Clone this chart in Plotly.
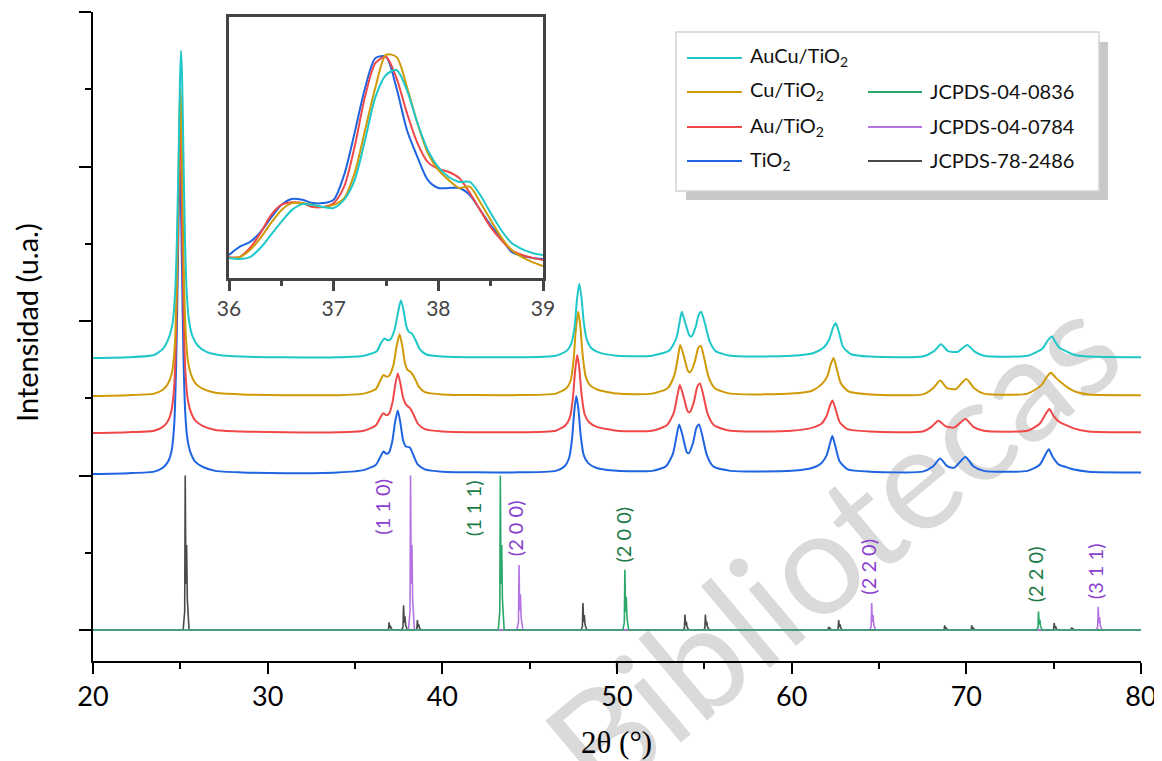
import plotly.graph_objects as go

# ---------------- data ----------------
# Sample patterns: (2theta, intensity above own baseline), units = 1 major y tick
TIO2_X = [20.0, 22.0, 23.5, 24.0, 24.3, 24.5, 24.65, 24.76, 24.86, 24.93, 24.97, 25.02, 25.09, 25.18, 25.28, 25.4, 25.58, 25.85, 26.3, 27.0,
          28.5, 31.0, 34.0, 35.5, 36.2, 36.45, 36.63, 36.8, 36.95, 37.15, 37.3, 37.45, 37.6, 37.75, 37.9, 38.15, 38.35, 38.6, 39.0,
          40.0, 44.0, 46.5, 47.0, 47.25, 47.42, 47.55, 47.67, 47.79, 47.92, 48.1, 48.35, 48.8, 50.0, 52.0, 52.8, 53.2, 53.4, 53.56,
          53.75, 54.0, 54.12, 54.35, 54.55, 54.7, 54.9, 55.15, 55.5, 56.5, 60.0, 61.2, 61.7, 62.0, 62.2, 62.33, 62.5, 62.75, 63.2,
          64.5, 67.5, 68.1, 68.5, 68.9, 69.3, 69.95, 70.4, 71.0, 73.5, 74.2, 74.55, 74.72, 74.95, 75.3, 75.7, 76.1, 77.0, 80.0]
TIO2_Y = [0.0, 0.005, 0.015, 0.04, 0.08, 0.15, 0.32, 0.7, 1.35, 1.85, 1.99, 1.85, 1.35, 0.75, 0.4, 0.23, 0.14, 0.08, 0.045, 0.02,
          0.01, 0.005, 0.01, 0.025, 0.06, 0.11, 0.145, 0.13, 0.14, 0.22, 0.34, 0.41, 0.33, 0.22, 0.18, 0.17, 0.12, 0.06, 0.03,
          0.015, 0.01, 0.02, 0.05, 0.1, 0.22, 0.4, 0.505, 0.42, 0.25, 0.12, 0.07, 0.04, 0.02, 0.02, 0.05, 0.13, 0.24, 0.32,
          0.25, 0.14, 0.135, 0.2, 0.3, 0.32, 0.24, 0.12, 0.05, 0.02, 0.02, 0.04, 0.07, 0.12, 0.2, 0.245, 0.18, 0.08, 0.03,
          0.015, 0.015, 0.05, 0.1, 0.05, 0.04, 0.11, 0.05, 0.02, 0.02, 0.06, 0.13, 0.16, 0.11, 0.06, 0.045, 0.03, 0.015, 0.01]

AU_X = [20.0, 22.0, 23.5, 24.0, 24.3, 24.5, 24.66, 24.77, 24.87, 24.94, 24.98, 25.03, 25.1, 25.19, 25.29, 25.41, 25.59, 25.86, 26.3, 27.0,
        28.5, 31.0, 34.0, 35.5, 36.2, 36.45, 36.62, 36.8, 36.95, 37.15, 37.3, 37.45, 37.6, 37.75, 37.95, 38.16, 38.35, 38.6, 39.0,
        40.0, 44.0, 46.5, 47.05, 47.3, 47.47, 47.6, 47.72, 47.84, 47.97, 48.15, 48.4, 48.85, 50.0, 52.0, 52.85, 53.25, 53.45, 53.6,
        53.8, 54.05, 54.17, 54.4, 54.6, 54.75, 54.95, 55.2, 55.55, 56.5, 60.0, 61.2, 61.7, 62.0, 62.2, 62.33, 62.5, 62.75, 63.2,
        64.5, 67.5, 68.0, 68.4, 68.8, 69.3, 69.95, 70.4, 71.0, 73.5, 74.2, 74.58, 74.75, 75.0, 75.35, 75.75, 76.15, 77.0, 80.0]
AU_Y = [0.0, 0.005, 0.015, 0.04, 0.08, 0.15, 0.32, 0.7, 1.35, 1.84, 1.98, 1.84, 1.35, 0.75, 0.4, 0.23, 0.14, 0.08, 0.045, 0.02,
        0.01, 0.005, 0.005, 0.015, 0.05, 0.1, 0.128, 0.115, 0.125, 0.2, 0.31, 0.386, 0.32, 0.23, 0.18, 0.16, 0.12, 0.06, 0.025,
        0.01, 0.005, 0.015, 0.05, 0.1, 0.22, 0.4, 0.505, 0.42, 0.25, 0.12, 0.07, 0.04, 0.015, 0.015, 0.05, 0.13, 0.24, 0.31,
        0.24, 0.14, 0.135, 0.2, 0.3, 0.32, 0.24, 0.12, 0.05, 0.015, 0.015, 0.035, 0.06, 0.11, 0.18, 0.21, 0.16, 0.07, 0.025,
        0.01, 0.01, 0.04, 0.08, 0.045, 0.035, 0.09, 0.04, 0.015, 0.015, 0.06, 0.13, 0.155, 0.11, 0.07, 0.05, 0.03, 0.01, 0.005]

CU_X = [20.0, 22.0, 23.5, 24.0, 24.3, 24.52, 24.68, 24.79, 24.89, 24.96, 25.0, 25.05, 25.12, 25.21, 25.31, 25.43, 25.61, 25.88, 26.3, 27.0,
        28.5, 31.0, 34.0, 35.5, 36.2, 36.45, 36.63, 36.8, 36.95, 37.2, 37.38, 37.55, 37.7, 37.85, 38.0, 38.2, 38.4, 38.65, 39.0,
        40.0, 44.0, 46.5, 47.1, 47.35, 47.52, 47.65, 47.78, 47.9, 48.03, 48.2, 48.45, 48.9, 50.0, 52.0, 52.9, 53.3, 53.5, 53.62,
        53.82, 54.07, 54.2, 54.45, 54.65, 54.8, 55.0, 55.25, 55.6, 56.5, 60.0, 61.2, 61.75, 62.05, 62.25, 62.4, 62.57, 62.82, 63.25,
        64.5, 67.5, 68.1, 68.5, 68.9, 69.4, 70.0, 70.45, 71.0, 73.5, 74.3, 74.65, 74.85, 75.1, 75.5, 75.85, 76.3, 77.0, 80.0]
CU_Y = [0.0, 0.005, 0.015, 0.04, 0.08, 0.15, 0.32, 0.7, 1.35, 1.85, 1.99, 1.85, 1.35, 0.75, 0.4, 0.23, 0.14, 0.08, 0.045, 0.02,
        0.01, 0.005, 0.005, 0.015, 0.045, 0.1, 0.136, 0.125, 0.13, 0.2, 0.32, 0.40, 0.33, 0.22, 0.17, 0.153, 0.12, 0.06, 0.025,
        0.01, 0.005, 0.015, 0.05, 0.1, 0.24, 0.44, 0.545, 0.45, 0.27, 0.13, 0.07, 0.04, 0.015, 0.015, 0.05, 0.14, 0.26, 0.33,
        0.26, 0.16, 0.155, 0.22, 0.31, 0.325, 0.24, 0.12, 0.05, 0.015, 0.015, 0.035, 0.08, 0.13, 0.21, 0.245, 0.18, 0.08, 0.03,
        0.01, 0.01, 0.05, 0.1, 0.05, 0.045, 0.11, 0.05, 0.015, 0.015, 0.07, 0.13, 0.15, 0.12, 0.08, 0.05, 0.025, 0.01, 0.005]

AUCU_X = [20.0, 22.0, 23.5, 24.0, 24.3, 24.55, 24.7, 24.8, 24.9, 24.98, 25.04, 25.1, 25.18, 25.27, 25.37, 25.5, 25.7, 26.0, 26.5, 27.2,
          28.5, 31.0, 34.0, 35.5, 36.25, 36.5, 36.7, 36.87, 37.02, 37.28, 37.47, 37.63, 37.78, 37.93, 38.08, 38.25, 38.45, 38.7, 39.05,
          40.0, 44.0, 46.5, 47.15, 47.4, 47.58, 47.71, 47.84, 47.96, 48.09, 48.27, 48.52, 49.0, 50.0, 52.0, 53.0, 53.4, 53.58, 53.71,
          53.9, 54.15, 54.27, 54.5, 54.68, 54.82, 55.02, 55.3, 55.65, 56.5, 60.0, 61.3, 61.85, 62.15, 62.38, 62.53, 62.7, 62.95, 63.4,
          64.5, 67.5, 68.15, 68.55, 68.95, 69.5, 70.05, 70.5, 71.0, 73.5, 74.35, 74.7, 74.9, 75.12, 75.35, 75.7, 76.2, 77.0, 80.0]
AUCU_Y = [0.0, 0.005, 0.02, 0.06, 0.12, 0.22, 0.42, 0.75, 1.3, 1.8, 1.99, 1.82, 1.3, 0.75, 0.42, 0.24, 0.14, 0.08, 0.04, 0.02,
          0.01, 0.005, 0.005, 0.015, 0.045, 0.1, 0.127, 0.115, 0.12, 0.19, 0.3, 0.375, 0.31, 0.21, 0.17, 0.16, 0.12, 0.06, 0.025,
          0.01, 0.005, 0.015, 0.05, 0.1, 0.21, 0.38, 0.48, 0.4, 0.24, 0.12, 0.065, 0.035, 0.015, 0.015, 0.05, 0.13, 0.23, 0.30,
          0.23, 0.145, 0.14, 0.2, 0.28, 0.30, 0.23, 0.11, 0.045, 0.015, 0.015, 0.035, 0.07, 0.12, 0.2, 0.225, 0.17, 0.07, 0.025,
          0.01, 0.01, 0.045, 0.09, 0.045, 0.04, 0.085, 0.04, 0.015, 0.015, 0.06, 0.12, 0.14, 0.1, 0.065, 0.045, 0.02, 0.01, 0.005]

SAMPLE_NAMES = ["TiO<sub>2</sub>", "Au/TiO<sub>2</sub>", "Cu/TiO<sub>2</sub>", "AuCu/TiO<sub>2</sub>"]
SAMPLE_OFFSETS = [1.01, 1.275, 1.515, 1.76]   # stacking offsets

# Inset (36-39 deg), normalised intensity
INSET_X = [36.0, 36.1, 36.2, 36.3, 36.4, 36.5, 36.6, 36.7, 36.8, 36.9, 37.0, 37.1, 37.2, 37.3, 37.4, 37.5, 37.6, 37.7,
           37.8, 37.9, 38.0, 38.1, 38.2, 38.3, 38.4, 38.5, 38.6, 38.7, 38.8, 38.9, 39.0]
INSET_TIO2 = [0.088, 0.119, 0.138, 0.176, 0.23, 0.28, 0.303, 0.30, 0.287, 0.287, 0.30, 0.395, 0.556, 0.728, 0.843, 0.847, 0.728, 0.567,
              0.464, 0.375, 0.345, 0.345, 0.345, 0.318, 0.26, 0.203, 0.153, 0.10, 0.084, 0.077, 0.073]
INSET_AU = [0.08, 0.08, 0.115, 0.172, 0.24, 0.28, 0.29, 0.287, 0.272, 0.272, 0.287, 0.35, 0.503, 0.695, 0.824, 0.847, 0.766, 0.632,
            0.517, 0.444, 0.418, 0.406, 0.383, 0.326, 0.26, 0.195, 0.146, 0.107, 0.088, 0.077, 0.069]
INSET_CU = [0.077, 0.08, 0.107, 0.153, 0.21, 0.26, 0.287, 0.287, 0.28, 0.272, 0.28, 0.306, 0.402, 0.567, 0.732, 0.855, 0.847, 0.732,
            0.594, 0.479, 0.414, 0.375, 0.345, 0.35, 0.29, 0.222, 0.157, 0.107, 0.08, 0.061, 0.046]
INSET_AUCU = [0.077, 0.073, 0.08, 0.115, 0.165, 0.215, 0.26, 0.283, 0.28, 0.272, 0.268, 0.30, 0.375, 0.529, 0.695, 0.778, 0.797, 0.72,
              0.594, 0.49, 0.425, 0.387, 0.368, 0.368, 0.318, 0.249, 0.184, 0.134, 0.111, 0.096, 0.088]

# Reference patterns (position, relative height)
ANATASE_POS = [25.28, 36.95, 37.78, 38.57, 48.05, 53.89, 55.06, 62.12, 62.69, 68.76, 70.31, 75.03, 76.02]
ANATASE_H = [1.0, 0.05, 0.16, 0.065, 0.175, 0.10, 0.10, 0.02, 0.065, 0.03, 0.03, 0.045, 0.015]
AU_REF_POS = [38.18, 44.39, 64.58, 77.55]
AU_REF_H = [1.0, 0.42, 0.175, 0.15]
CU_REF_POS = [43.32, 50.45, 74.13]
CU_REF_H = [1.0, 0.39, 0.12]

HKL_TEXT = ["(1 1 0)", "(1 1 1)", "(2 0 0)", "(2 0 0)", "(2 2 0)", "(2 2 0)", "(3 1 1)"]
HKL_X = [36.56, 41.77, 44.17, 50.36, 64.37, 73.98, 77.36]
HKL_Y = [0.80, 0.79, 0.66, 0.62, 0.41, 0.36, 0.38]
HKL_PHASE = ["au", "cu", "au", "cu", "au", "cu", "au"]

# ---------------- style ----------------
C_TIO2 = "#1f64e0"
C_AU = "#f04848"
C_CU = "#cf9a08"
C_AUCU = "#1fc7c9"
C_GREEN = "#2aa86a"
C_PURPLE = "#b574e3"
C_GRAY = "#4a4a4a"
T_GREEN = "#1e7a48"
T_PURPLE = "#8a3fcf"
FONT = "Lato"

# page body has an 8px margin: size and margins compensate so the plot lands at the target pixels
OFF = 8
W, H = 1162 - OFF, 761 - OFF
ML, MR, MT, MB = 93 - OFF, 21, 12 - OFF, 100
PW, PH = W - ML - MR, H - MT - MB


def px(x):
    return (x - OFF - ML) / PW


def py(y):
    return (H + OFF - MB - y) / PH


def stick(pos, hts):
    xs, ys = [20.0], [0.0]
    for p, h in sorted(zip(pos, hts)):
        xs += [p - 0.12, p - 0.03, p, p + 0.04, p + 0.08, p + 0.12, p + 0.22]
        ys += [0.0, 0.12 * h, h, 0.3 * h, 0.55 * h, 0.2 * h, 0.0]
    xs.append(80.0)
    ys.append(0.0)
    return xs, ys


fig = go.Figure()

for pos, hts, col in [(ANATASE_POS, ANATASE_H, C_GRAY), (AU_REF_POS, AU_REF_H, C_PURPLE), (CU_REF_POS, CU_REF_H, C_GREEN)]:
    sx, sy = stick(pos, hts)
    fig.add_trace(go.Scatter(x=sx, y=sy, mode="lines", line=dict(color=col, width=1.6),
                             showlegend=False, hoverinfo="skip"))

samples = [(TIO2_X, TIO2_Y, C_TIO2), (AU_X, AU_Y, C_AU), (CU_X, CU_Y, C_CU), (AUCU_X, AUCU_Y, C_AUCU)]
for (xs, ys, col), off, name in zip(samples, SAMPLE_OFFSETS, SAMPLE_NAMES):
    fig.add_trace(go.Scatter(x=xs, y=[off + v for v in ys], mode="lines", name=name,
                             line=dict(color=col, width=2, shape="spline", smoothing=0.6),
                             showlegend=False))

for ys, col in [(INSET_TIO2, C_TIO2), (INSET_AU, C_AU), (INSET_CU, C_CU), (INSET_AUCU, C_AUCU)]:
    fig.add_trace(go.Scatter(x=INSET_X, y=ys, mode="lines", xaxis="x2", yaxis="y2",
                             line=dict(color=col, width=2, shape="spline", smoothing=0.8),
                             showlegend=False))

annotations = []
for t, x, y, ph in zip(HKL_TEXT, HKL_X, HKL_Y, HKL_PHASE):
    annotations.append(dict(x=x, y=y, xref="x", yref="y", text=t, showarrow=False, textangle=-90,
                            xanchor="center", yanchor="middle",
                            font=dict(family=FONT, size=20, color=T_PURPLE if ph == "au" else T_GREEN)))

# axis titles
annotations.append(dict(x=px(27), y=py(323), xref="paper", yref="paper", text="Intensidad (u.a.)",
                        showarrow=False, textangle=-90, xanchor="center", yanchor="middle",
                        font=dict(family=FONT, size=29, color="black")))
annotations.append(dict(x=px(616), y=py(742), xref="paper", yref="paper", text="2θ (°)",
                        showarrow=False, xanchor="center", yanchor="middle",
                        font=dict(family="Liberation Serif", size=31, color="black")))

shapes = []
# legend box with shadow
shapes.append(dict(type="rect", xref="paper", yref="paper", x0=px(686), x1=px(1108), y0=py(200), y1=py(42),
                   fillcolor="#c8c8c8", line=dict(width=0)))
shapes.append(dict(type="rect", xref="paper", yref="paper", x0=px(676), x1=px(1099), y0=py(191), y1=py(32),
                   fillcolor="white", line=dict(color="#d4d4d4", width=1.5)))
legend_items = [
    (0, 58, C_AUCU, "AuCu/TiO<sub>2</sub>"),
    (0, 92, C_CU, "Cu/TiO<sub>2</sub>"),
    (0, 127, C_AU, "Au/TiO<sub>2</sub>"),
    (0, 161, C_TIO2, "TiO<sub>2</sub>"),
    (1, 92, C_GREEN, "JCPDS-04-0836"),
    (1, 127, C_PURPLE, "JCPDS-04-0784"),
    (1, 161, C_GRAY, "JCPDS-78-2486"),
]
for colidx, rowy, col, label in legend_items:
    lx0, lx1, tx = (687, 742, 748) if colidx == 0 else (868, 922, 928)
    shapes.append(dict(type="line", xref="paper", yref="paper", x0=px(lx0), x1=px(lx1), y0=py(rowy), y1=py(rowy),
                       line=dict(color=col, width=2.2)))
    annotations.append(dict(x=px(tx), y=py(rowy - 1), xref="paper", yref="paper", text=label, showarrow=False,
                            xanchor="left", yanchor="middle", font=dict(family=FONT, size=20, color="#111")))

# watermark (below the data)
shapes.append(dict(type="line", xref="paper", yref="paper", x0=px(655), y0=py(805), x1=px(1115), y1=py(419),
                   layer="below", line=dict(color="rgba(0,0,0,0)", width=0),
                   label=dict(text="Bibliotecas", textangle=-40, textposition="middle",
                              font=dict(family=FONT, size=145, color="#dadada"))))

axis_common = dict(showgrid=False, zeroline=False, showline=True)
fig.update_layout(
    width=W, height=H,
    margin=dict(l=ML, r=MR, t=MT, b=MB),
    paper_bgcolor="white", plot_bgcolor="rgba(0,0,0,0)",
    showlegend=False,
    xaxis=dict(range=[20, 80], tick0=20, dtick=10, ticks="outside", ticklen=11, tickwidth=2, tickcolor="black",
               linecolor="black", linewidth=2, tickfont=dict(family=FONT, size=27, color="black"),
               minor=dict(dtick=5, ticks="outside", ticklen=6, tickwidth=2, tickcolor="black"), **axis_common),
    yaxis=dict(range=[-0.2006, 4.0], tick0=0, dtick=1, ticks="outside", ticklen=12, tickwidth=2, tickcolor="black",
               linecolor="black", linewidth=2, showticklabels=False,
               minor=dict(dtick=0.5, ticks="outside", ticklen=6, tickwidth=2, tickcolor="black"), **axis_common),
    xaxis2=dict(domain=[px(229), px(543)], anchor="y2", range=[36, 39], tick0=36, dtick=1, ticks="outside",
                ticklen=10, tickwidth=2.5, tickcolor="#444", linecolor="#444", linewidth=2.5, mirror=True,
                tickfont=dict(family=FONT, size=21, color="#444"),
                minor=dict(dtick=0.5, ticks="outside", ticklen=5, tickwidth=2.5, tickcolor="#444"), **axis_common),
    yaxis2=dict(domain=[py(278), py(17)], anchor="x2", range=[0, 1], showticklabels=False, ticks="",
                linecolor="#444", linewidth=2.5, mirror=True, **axis_common),
    annotations=annotations,
    shapes=shapes,
)

fig.write_html("out.html")
